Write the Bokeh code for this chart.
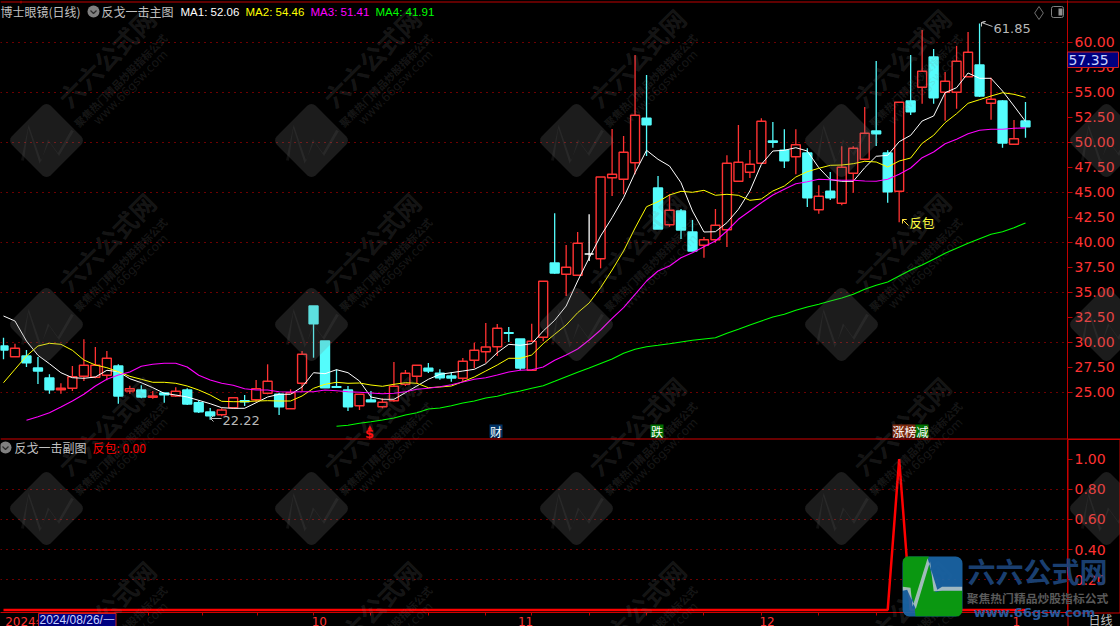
import math
from bokeh.plotting import figure
from bokeh.layouts import column
from bokeh.embed import file_html
from bokeh.resources import INLINE
from bokeh.models import (Label, PolyAnnotation, BoxAnnotation, Range1d, FixedTicker,
                          NumeralTickFormatter, ColumnDataSource)

# ---------- data ----------
opens = [29.6,28.53,28.6,27.4,26.4,25.23,25.37,26.57,26.47,26.67,27.6,25.1,25.2,24.47,24.9,24.6,25.2,23.93,23.0,22.73,
         23.43,24.13,24.23,24.87,24.77,23.33,25.87,33.6,30.1,25.53,25.2,23.63,24.2,23.53,24.13,25.77,26.57,27.37,26.87,26.6,
         26.37,28.17,29.03,29.53,30.93,30.3,27.17,30.47,37.9,36.77,36.67,38.8,38.33,46.43,46.27,47.93,52.37,45.4,41.73,43.1,
         41.0,39.67,40.23,41.23,46.07,46.97,47.87,50.1,49.17,48.53,48.9,43.23,45.07,43.87,46.87,48.27,51.1,48.9,45.07,54.1,
         55.47,58.5,54.97,54.97,56.53,57.7,53.87,54.1,49.77,52.1]
closes = [29.2,29.37,27.93,27.1,25.23,25.37,26.53,27.67,27.67,28.37,24.6,25.33,24.5,24.6,24.73,25.07,23.8,23.03,22.63,23.2,
          24.43,24.03,25.33,26.07,23.53,24.93,28.77,31.83,25.43,25.47,23.53,24.77,24.03,23.97,25.57,26.87,27.67,27.1,26.43,26.4,
          28.07,29.17,29.5,31.37,30.87,27.4,30.07,36.07,36.9,37.47,39.87,38.8,46.5,46.77,48.97,52.67,51.73,41.3,43.17,41.2,
          39.1,40.23,41.67,47.87,47.97,47.77,52.07,49.97,48.13,49.73,44.43,44.57,44.43,47.47,49.37,50.87,50.83,45.03,53.97,53.03,
          57.07,54.43,56.07,58.07,58.97,54.6,54.27,49.9,50.33,51.53]
highs = [30.43,29.83,29.2,28.5,26.77,25.87,27.6,30.27,29.5,29.1,27.77,25.63,25.67,25.1,24.93,25.47,25.37,24.17,23.4,23.37,
         24.43,24.7,26.2,27.77,24.93,25.27,29.1,33.6,30.1,27.27,25.6,24.77,25.1,24.37,28.0,27.2,27.67,27.9,27.27,27.0,
         28.4,29.93,31.9,31.8,31.5,30.3,31.83,36.07,42.87,39.7,41.0,42.77,46.5,51.3,50.6,58.7,56.7,46.6,44.77,43.3,
         42.2,40.5,43.3,48.67,51.7,49.2,52.37,52.0,51.27,51.27,49.37,45.67,47.0,49.57,49.57,53.5,58.1,49.17,53.97,58.7,
         61.2,59.3,57.0,59.6,61.0,61.85,56.43,54.17,52.2,54.0]
lows = [28.27,28.53,27.5,25.8,24.83,24.83,25.1,26.1,26.37,26.17,23.83,24.83,24.37,24.33,23.93,24.5,23.7,22.9,22.22,22.57,
        23.37,23.6,24.03,24.77,22.7,23.33,25.1,28.43,25.43,25.43,23.1,23.2,24.03,23.37,24.03,25.6,25.87,26.9,26.23,26.03,
        26.1,27.37,27.93,28.6,30.0,27.17,27.1,30.07,36.83,34.6,36.67,38.1,37.37,44.6,44.77,46.77,48.6,41.3,41.53,40.3,
        39.1,38.43,39.93,39.5,46.07,46.4,47.87,49.43,47.4,46.77,43.5,42.83,44.2,43.67,44.93,48.17,49.6,43.93,41.97,52.7,
        53.83,53.83,52.13,53.33,56.53,54.5,52.23,49.43,49.77,50.43]

ma1 = [32.6,32.1,30.1,28.67,27.83,26.93,26.43,26.37,26.5,27.17,27.03,26.33,25.93,25.43,24.87,24.7,24.5,24.17,23.83,23.43,
       23.37,23.37,23.93,24.5,24.77,24.77,25.5,26.93,26.83,27.23,26.93,26.1,24.5,24.27,24.27,24.93,25.6,26.27,26.77,26.93,
       27.1,27.27,27.83,28.93,29.77,29.67,29.83,31.1,32.17,33.6,36.1,38.4,40.6,42.43,44.43,46.93,49.17,48.27,47.6,45.93,
       43.1,41.0,41.03,41.93,43.27,45.1,47.77,49.1,49.17,49.43,49.1,47.43,46.23,46.07,46.07,47.43,48.57,48.67,50.03,50.67,
       52.1,52.6,54.93,55.43,56.9,56.37,56.37,55.1,53.6,52.06]
ma2 = [25.93,27.27,28.6,29.6,29.87,29.77,29.17,28.2,27.7,27.43,27.03,26.57,26.27,25.97,25.97,25.87,25.6,25.2,24.7,24.07,
       24.03,24.03,24.1,24.13,24.1,24.1,24.6,25.37,25.77,25.97,25.87,25.9,25.7,25.57,25.77,25.93,25.87,25.43,25.5,25.6,
       26.03,26.5,27.1,27.7,28.37,28.37,28.7,29.83,30.77,31.7,32.93,33.9,35.43,37.2,39.1,41.4,43.53,44.03,44.7,45.07,
       44.97,45.17,44.67,44.77,44.67,44.17,44.3,45.1,45.6,46.5,47.03,47.37,47.67,47.7,47.83,48.07,48.0,47.5,48.1,48.4,
       49.87,50.67,51.93,52.83,53.87,54.23,54.6,54.93,54.77,54.46]
ma3_start = 2
ma3 = [22.17,22.53,22.93,23.5,24.1,24.77,25.6,26.27,26.7,27.0,27.57,27.77,27.87,27.87,27.5,26.67,26.2,25.87,
       25.67,25.33,25.2,25.2,25.03,25.0,25.03,25.03,25.2,25.13,25.03,24.97,24.9,24.83,24.87,25.03,25.27,25.37,25.53,25.73,
       26.0,26.27,26.43,26.7,27.0,27.17,27.23,27.5,28.17,28.7,29.3,30.2,31.2,32.37,33.43,34.77,36.1,37.1,37.6,38.43,
       38.93,39.53,40.1,41.1,42.27,43.1,43.93,44.7,45.27,45.83,46.03,46.27,46.23,46.17,46.17,46.1,46.07,46.27,46.77,47.4,
       48.43,49.0,49.83,50.27,50.83,51.17,51.27,51.27,51.37,51.41]
ma4_start = 29
ma4 = [21.57,21.67,21.87,22.03,22.2,22.4,22.7,22.93,23.3,23.4,23.63,23.9,24.1,24.4,24.57,24.87,25.1,25.37,25.63,26.07,
       26.53,26.97,27.4,27.85,28.3,28.87,29.27,29.53,29.67,29.83,30.0,30.17,30.3,30.43,30.87,31.27,31.7,32.1,32.5,32.77,
       33.17,33.5,33.77,34.1,34.4,34.77,35.27,35.67,36.0,36.6,37.2,37.7,38.27,38.87,39.37,39.87,40.33,40.77,41.03,41.43,41.91]
fanbao = [0.0] * 78 + [1.0] + [0.0] * 11

price_ticks = [25, 27.5, 30, 32.5, 35, 37.5, 40, 42.5, 45, 47.5, 50, 52.5, 55, 57.5, 60]
grid_ticks = [25, 30, 35, 40, 45, 50, 55, 60]
sub_ticks = [0.2, 0.4, 0.6, 0.8, 1.0]
sub_grid = [0.2, 0.4, 0.6, 0.8]
month_at = [2, 27.5, 45.46, 66.5, 88.2]
month_labels = ["2024年", "10", "11", "12", "1"]
week_at = [12.6, 17.3, 22.1, 27, 32, 37, 42, 46, 51, 56, 61, 66, 71, 76, 81, 86]

# ---------- scales ----------
X0, STEP = 3.0, 11.483
W, FW = 1120, 1067
H1, H2 = 439, 187
RED, AX, GRID = "#ff3232", "#c00000", "#d80000"
CJK = "Noto Sans CJK SC"
NUM = "DejaVu Sans"
LAT = "Liberation Sans"


def X(px):
    return (px - X0) / STEP


def Y1(py):
    return 60 - (py - 41.5) / 10


def Y2(py):
    return (609.5 - py) / 151


def base_fig(h, fh, yr):
    f = figure(width=W, height=h, frame_width=FW, frame_height=fh, x_range=Range1d(X(0), X(FW)), y_range=yr,
               output_backend="svg", toolbar_location=None, background_fill_color="black", border_fill_color="black",
               min_border_left=0, min_border_top=0, min_border_right=W - FW, min_border_bottom=h - fh,
               y_axis_location="right", outline_line_color=None, tools="")
    f.xgrid.visible = False
    return f


def style_y(ax, ticks):
    ax.ticker = FixedTicker(ticks=ticks)
    ax.formatter = NumeralTickFormatter(format="0.00")
    ax.axis_line_color = AX
    ax.major_tick_line_color = AX
    ax.major_tick_in = 0
    ax.major_tick_out = 5
    ax.minor_tick_line_color = None
    ax.major_label_standoff = 2
    ax.major_label_text_color = RED
    ax.major_label_text_font = NUM
    ax.major_label_text_font_size = "14px"


# ---------- main panel ----------
p1 = base_fig(H1, H1, Range1d(Y1(H1), Y1(0)))
p1.xaxis.visible = False
style_y(p1.yaxis[0], price_ticks)
p1.ygrid.ticker = FixedTicker(ticks=grid_ticks)
p1.ygrid.grid_line_color = GRID
p1.ygrid.grid_line_dash = "1 5"

n = len(opens)
idx = list(range(n))
edge = ["#54fcfc" if c < o else (RED if c > o else "#ffffff") for o, c in zip(opens, closes)]
body = ["#54fcfc" if c < o else ("#000000" if c > o else "#ffffff") for o, c in zip(opens, closes)]
src = ColumnDataSource(dict(x=idx, o=opens, c=closes, h=highs, l=lows, edge=edge, body=body,
                            top=[max(a, b) for a, b in zip(opens, closes)],
                            bot=[min(a, b) for a, b in zip(opens, closes)]))
p1.segment("x", "h", "x", "l", source=src, line_color="edge", line_width=1.3)
p1.vbar("x", 0.78, "bot", "top", source=src, fill_color="body", line_color="edge", line_width=1.4)

p1.line(idx, ma1, line_color="#ffffff", line_width=1)
p1.line(idx, ma2, line_color="#ffff00", line_width=1)
p1.line(list(range(ma3_start, n)), ma3, line_color="#ff00ff", line_width=1.1)
p1.line(list(range(ma4_start, n)), ma4, line_color="#00ff00", line_width=1.1)

# ---------- sub panel ----------
p2 = base_fig(H2, 173, Range1d(Y2(612), Y2(439)))
style_y(p2.yaxis[0], sub_ticks)
p2.ygrid.ticker = FixedTicker(ticks=sub_grid)
p2.ygrid.grid_line_color = GRID
p2.ygrid.grid_line_dash = "1 5"

xa = p2.xaxis[0]
xa.ticker = FixedTicker(ticks=month_at, minor_ticks=week_at)
xa.major_label_overrides = dict(zip(month_at, month_labels))
xa.axis_line_color = "#d00000"
xa.major_tick_line_color = None
xa.major_tick_out = 0
xa.major_tick_in = 0
xa.minor_tick_line_color = AX
xa.minor_tick_out = 3
xa.minor_tick_in = 0
xa.major_label_standoff = -1
xa.major_label_text_color = RED
xa.major_label_text_font = NUM
xa.major_label_text_font_size = "12px"

p2.line(idx, fanbao, line_color="#ff0000", line_width=2.5)

# ---------- transparent page-wide layer for texts, frame lines and watermarks ----------
ov = figure(width=W, height=H1 + H2, frame_width=W, frame_height=H1 + H2, x_range=Range1d(0, W), y_range=Range1d(H1 + H2, 0),
            output_backend="svg", toolbar_location=None, background_fill_color=None, border_fill_color=None,
            min_border_left=0, min_border_top=0, min_border_right=0, min_border_bottom=0,
            x_axis_location=None, y_axis_location=None, outline_line_color=None, tools="",
            styles={"position": "absolute", "left": "0px", "top": "0px"})
ov.xgrid.visible = False
ov.ygrid.visible = False


def lab(text, px, py, color, size, font=CJK, align="left", style="normal", angle=0, alpha=1.0):
    ov.add_layout(Label(x=px, y=py, text=text, text_color=color, text_font_size=f"{size}px", text_font=font,
                        text_align=align, text_baseline="middle", text_font_style=style, angle=angle,
                        angle_units="deg", text_alpha=alpha))


def poly(pts, fill=None, alpha=1.0, line=None, lw=1):
    ov.add_layout(PolyAnnotation(xs=[a for a, b in pts], ys=[b for a, b in pts],
                                 fill_color=fill, fill_alpha=alpha if fill else 0,
                                 line_color=line, line_alpha=1 if line else 0, line_width=lw))


def box(l, t, r, b, fill, line=None, radius=0, alpha=1.0):
    ov.add_layout(BoxAnnotation(left=l, right=r, top=t, bottom=b, fill_color=fill, fill_alpha=alpha,
                                line_color=line, line_alpha=1 if line else 0, border_radius=radius))


def ribbon(pts, w):
    left, right = [], []
    m = len(pts)
    for i, (x, y) in enumerate(pts):
        x0, y0 = pts[max(i - 1, 0)]
        x1, y1 = pts[min(i + 1, m - 1)]
        d = math.hypot(x1 - x0, y1 - y0) or 1
        nx, ny = -(y1 - y0) / d * w / 2, (x1 - x0) / d * w / 2
        left.append((x + nx, y + ny))
        right.append((x - nx, y - ny))
    return left + right[::-1]


def rounded_diamond(cx, cy, a=27.5, r=6):
    pts = []
    c = a - r
    for k, (sx, sy) in enumerate([(1, 1), (-1, 1), (-1, -1), (1, -1)]):
        for j in range(5):
            t = k * math.pi / 2 + j * math.pi / 8
            px_, py_ = sx * c + r * math.cos(t), sy * c + r * math.sin(t)
            pts.append((cx + (px_ - py_) * math.sqrt(0.5), cy + (px_ + py_) * math.sqrt(0.5)))
    return pts


# watermark tiles
WM_COLS = [46, 311, 576, 841, 1106]
WM_GRAY = "#808080"
for cy in [140, 324, 508]:
    for cx in WM_COLS:
        poly(rounded_diamond(cx, cy), fill=WM_GRAY, alpha=0.22)
        pulse = [(cx - 24, cy + 20), (cx - 18, cy - 14), (cx - 6, cy + 22), (cx + 2, cy), (cx + 12, cy + 14), (cx + 26, cy - 10)]
        poly(ribbon(pulse, 3), fill=WM_GRAY, alpha=0.12)
for cy in [140, 324, 508, 692]:
    for cx in WM_COLS[:-1]:
        lab("六六公式网", cx + 60, cy - 83, WM_GRAY, 25, align="center", style="bold", angle=45, alpha=0.18)
        lab("聚焦热门精品炒股指标公式", cx + 74, cy - 60, WM_GRAY, 10.5, align="center", style="bold", angle=45, alpha=0.18)
        lab("www.66gsw.com", cx + 84, cy - 53, WM_GRAY, 12, font=NUM, align="center", angle=45, alpha=0.18)

# frame lines
poly([(0, 1.5), (W, 1.5)], line=AX)
poly([(0, 438.5), (W, 438.5)], line="#d00000")
poly([(20.5, 0), (20.5, 3)], line=AX)
poly([(1067.5, 439), (1119.5, 439), (1119.5, 612.5), (1067.5, 612.5)], line="#d00000")
poly([(1067.5, 612), (1067.5, 626)], line="#d00000")

# headers
lab("博士眼镜(日线)", 0, 11, "#c0c0c0", 12)
ov.scatter([93], [11], size=12, marker="circle", fill_color="#808080", line_color=None)
ov.line([90, 93, 96], [10, 13, 10], line_color="#2a2a2a", line_width=1.2)
lab("反戈一击主图", 101, 11, "#c0c0c0", 12)
lab("MA1: 52.06", 180, 11, "#ffffff", 11.5, font=LAT)
lab("MA2: 54.46", 245, 11, "#ffff00", 11.5, font=LAT)
lab("MA3: 51.41", 310, 11, "#ff00ff", 11.5, font=LAT)
lab("MA4: 41.91", 375, 11, "#00ff00", 11.5, font=LAT)
lab("反戈一击副图", 14, 447, "#c0c0c0", 12)
ov.scatter([5], [447], size=12, marker="circle", fill_color="#808080", line_color=None)
ov.line([2, 5, 8], [446, 449, 446], line_color="#2a2a2a", line_width=1.2)
lab("反包: 0.00", 92, 447, "#ff0000", 12)

# top-right icons
ov.scatter([1038.5], [12.5], size=13, marker="diamond", fill_color=None, line_color="#707070", line_width=1)
box(1051, 6, 1063, 17, "#000000", line="#808080", radius=2)
box(1058, 8, 1062, 15, "#909090")

# price tag
box(1067, 51.5, 1118, 67, "#000080", line="#d02020")
lab("57.35", 1068, 59.5, "#c8d4ff", 14, font=NUM)

# extreme notes
lab("22.22", 222, 419.5, "#b8b8b8", 13, font=NUM)
ov.line([221, 210, 213, 210, 213], [418, 418, 415, 418, 421], line_color="#c0c0c0", line_width=1)
lab("61.85", 993, 27.5, "#b8b8b8", 13, font=NUM)
ov.line([992, 981, 985, 981, 981], [26, 22, 21, 22, 26], line_color="#c0c0c0", line_width=1)
lab("反包", 909, 222, "#ffff40", 12.5)
ov.line([908, 902, 906, 902, 902], [225, 219, 219, 219, 223], line_color="#ffe040", line_width=1)

# event tags
lab("$", 369, 433, "#ff1010", 13, font=NUM, align="center", style="bold")
lab("▲", 369, 426, "#ff1010", 6, font=NUM, align="center")
box(489, 424, 502, 437, "#003366")
lab("财", 495.5, 430.5, "#ffffff", 12, align="center")
box(650, 424, 663, 437, "#007000")
lab("跌", 656.5, 430.5, "#ffffff", 12, align="center")
box(892, 424, 915, 437, "#7a2a10")
box(915, 424, 928, 437, "#007000")
lab("涨榜减", 910, 430.5, "#ffffff", 12, align="center")

# bottom bar
box(38, 613, 115.5, 626, "#000080", line="#c02020")
lab("2024/08/26/一", 39, 619.5, "#c8d4ff", 12, font=LAT)
lab("日线", 1088, 619, "#c0c0c0", 12)

# brand logo
def zx(v):
    return 895 + v / 3


def zy(v):
    return 550 + v / 3


box(902, 556, 962, 616, "#1a66a8", radius=7, alpha=0.92)
poly([(zx(32), zy(18)), (zx(100), zy(18)), (zx(58), zy(165)), (zx(40), zy(115)), (zx(22), zy(115)), (zx(22), zy(28))],
     fill="#0a9a0a", alpha=0.95)
poly([(zx(58), zy(178)), (zx(100), zy(40)), (zx(120), zy(125)), (zx(140), zy(120)), (zx(200), zy(120)), (zx(200), zy(186)),
      (zx(190), zy(197)), (zx(60), zy(197))], fill="#0a9a0a", alpha=0.95)
poly(ribbon([(zx(22), zy(115)), (zx(40), zy(115)), (zx(56), zy(172)), (zx(100), zy(28)), (zx(120), zy(120)),
             (zx(140), zy(115)), (zx(200), zy(115))], 4), fill="#b8c8c8", alpha=0.85)
lab("六六公式网", 1037, 570, "#1c4478", 28, align="center", style="bold", alpha=0.95)
lab("聚焦热门精品炒股指标公式", 1037, 597, "#5a5a5a", 11.8, align="center", style="bold")
lab("www.66gsw.com", 1034, 612, "#2a5a9a", 13, font=NUM, align="center", style="bold")

page = column(p1, p2, spacing=0)
html = file_html([page, ov], INLINE).replace(
    "<head>", "<head><style>html,body{margin:0;padding:0;background:#000;overflow:hidden}</style>", 1)
open("out.html", "w").write(html)
